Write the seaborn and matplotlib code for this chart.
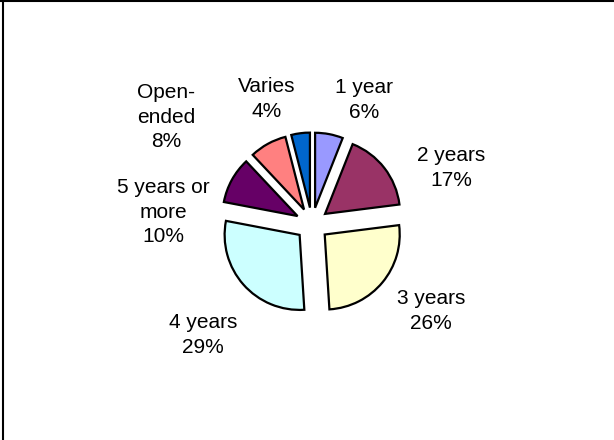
import numpy as np
import matplotlib
matplotlib.use("Agg")
import matplotlib.pyplot as plt
from matplotlib.lines import Line2D
import seaborn as sns

# Contract length shares (percent), clockwise from 12 o'clock
categories = ["1 year", "2 years", "3 years", "4 years", "5 years or\nmore", "Open-\nended", "Varies"]
shares = [6, 17, 26, 29, 10, 8, 4]
slice_colors = ["#9999FF", "#993366", "#FFFFCC", "#CCFFFF", "#660066", "#FF8080", "#0066CC"]

# Label placement: (angle clockwise from top in degrees, distance in radii)
label_layout = [(22.8, 1.79), (68.1, 2.0), (126.2, 1.97), (224.5, 2.07),
                (274.6, 1.99), (306.2, 2.41), (340.2, 1.77)]

sns.set_theme(style="white")
plt.rcParams["font.family"] = ["Liberation Sans", "DejaVu Sans"]

fig = plt.figure(figsize=(6.14, 4.4), dpi=100)
fig.patch.set_facecolor("white")
ax = fig.add_axes([0, 0, 1, 1])

wedges, texts = ax.pie(
    shares,
    labels=[f"{c}\n{v}%" for c, v in zip(categories, shares)],
    colors=slice_colors,
    startangle=90,
    counterclock=False,
    explode=[0.22] * len(shares),
    radius=1.0,
    wedgeprops=dict(edgecolor="black", linewidth=1.6),
    textprops=dict(fontsize=15, color="black"),
)

for t, (ang, dist) in zip(texts, label_layout):
    a = np.deg2rad(ang)
    t.set_position((dist * np.sin(a), dist * np.cos(a)))
    t.set_ha("center")
    t.set_va("center")
    t.set_multialignment("center")
    t.set_linespacing(1.38)

# one radius = 75 px; pie centre at (312, 224) px from the top-left
ax.set_xlim(-312 / 75, (614 - 312) / 75)
ax.set_ylim(-(440 - 224) / 75, 224 / 75)
ax.set_aspect("auto")
ax.axis("off")

# chart frame lines along the top and left edges
fig.add_artist(Line2D([0, 1], [1 - 1.5 / 440, 1 - 1.5 / 440], transform=fig.transFigure,
                      color="black", linewidth=1.5))
fig.add_artist(Line2D([2.5 / 614, 2.5 / 614], [0, 1], transform=fig.transFigure,
                      color="black", linewidth=1.5))

fig.savefig("out.png", dpi=100)
